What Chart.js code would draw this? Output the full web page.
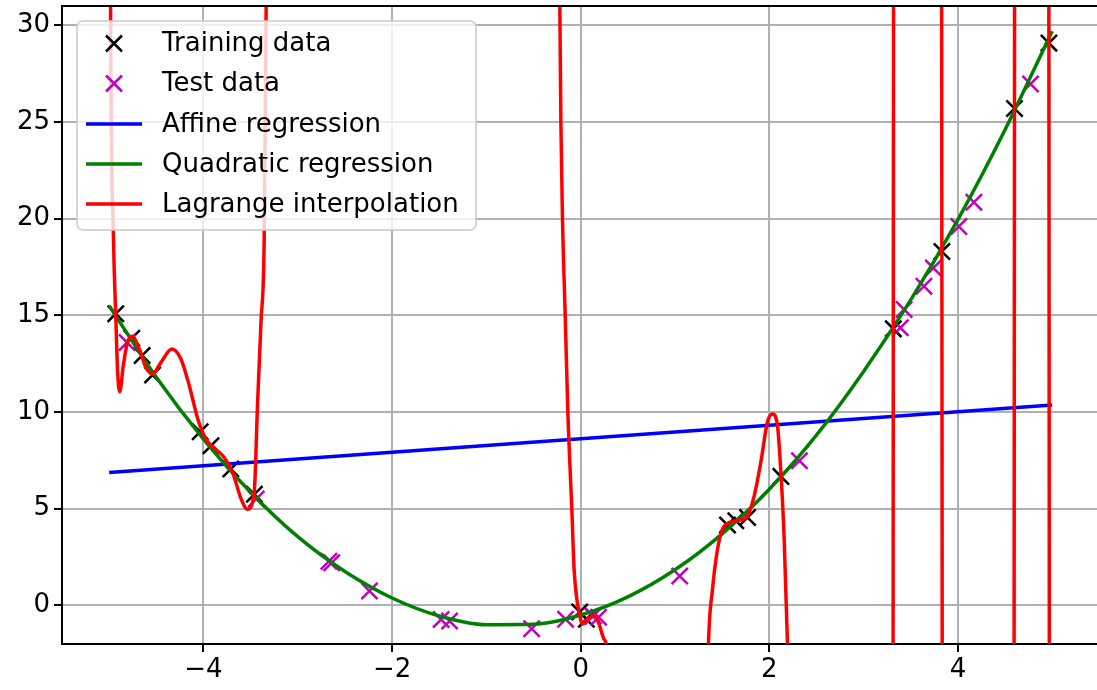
<!DOCTYPE html>
<html><head><meta charset="utf-8">
<script src="https://cdn.jsdelivr.net/npm/chart.js@4/dist/chart.umd.min.js"></script>
<style>html,body{margin:0;padding:0;background:#fff;overflow:hidden}#wrap{width:1097px;height:690px}</style>
</head><body><div id="wrap"><canvas id="c" width="1097" height="690"></canvas></div>
<script>
// ---- data ----
const trainX = [-4.93, -4.76, -4.65, -4.54, -4.035, -3.92, -3.71, -3.46, -0.01, 0.06, 0.13, 1.557, 1.645, 1.77, 2.123, 3.315, 3.83, 4.60, 4.965];
const trainY = [15.08, 13.82, 12.92, 11.92, 8.98, 8.25, 7.05, 5.75, -0.35, -0.72, -0.55, 4.15, 4.37, 4.54, 6.67, 14.3, 18.3, 25.7, 29.08];

const testX = [-4.81, -3.44, -2.67, -2.64, -2.24, -1.48, -1.39, -0.52, -0.16, 0.13, 0.19, 1.05, 2.32, 3.39, 3.43, 3.64, 3.74, 4.01, 4.17, 4.77];
const testY = [13.6, 5.5, 2.28, 2.2, 0.74, -0.73, -0.81, -1.21, -0.72, -0.55, -0.62, 1.52, 7.48, 14.36, 15.3, 16.5, 17.45, 19.6, 20.85, 26.96];

const affineX = [-5, 5];
const affineY = [6.87, 10.36];

const quadX = [-5, -4.5, -4, -3.5, -3, -2.5, -2, -1.5, -1, -0.5, 0, 0.5, 1, 1.5, 2, 2.5, 3, 3.5, 4, 4.5, 5];
const quadY = [15.5, 11.8, 8.6, 5.85, 3.55, 1.75, 0.38, -0.55, -1.0, -0.98, -0.5, 0.44, 1.84, 3.7, 6.0, 8.8, 12.1, 15.8, 19.95, 24.6, 29.7];

const lagX = [-5.0, -4.985, -4.954, -4.93, -4.91, -4.887, -4.85, -4.806, -4.753, -4.68, -4.61, -4.54, -4.45, -4.335, -4.24, -4.15, -4.06, -3.975, -3.87, -3.78, -3.69, -3.6, -3.533, -3.462, -3.427, -3.39, -3.356, -3.335, -3.31,
  -0.25, -0.221, -0.21, -0.193, -0.164, -0.136, -0.094, -0.07, -0.04, -0.016, 0.02, 0.06, 0.09, 0.154, 0.196, 0.249, 0.27, 0.29,
  1.33, 1.355, 1.398, 1.451, 1.504, 1.575, 1.68, 1.77, 1.84, 1.91, 1.98, 2.034, 2.087, 2.123, 2.158, 2.193, 2.21,
  3.29, 3.315, 3.34, 3.80, 3.83, 3.86, 4.57, 4.60, 4.63, 4.94, 4.965, 4.99, 5.0];
const lagY = [60, 31, 18.96, 15.0, 12.06, 11.05, 12.4, 13.6, 13.92, 13.26, 12.3, 11.97, 12.57, 13.26, 12.75, 11.36, 9.64, 8.6, 8.08, 7.65, 6.87, 5.49, 4.97, 5.84, 10.33, 14.65, 18.96, 31, 60,
  50, 31, 25, 20, 15, 10, 5, 1.9, 0.3, -0.38, -0.98, -0.75, -0.64, -0.55, -0.98, -1.76, -2.0, -4,
  -8, -2.0, 0.83, 2.9, 3.94, 4.28, 4.4, 4.63, 5.66, 7.39, 9.47, 9.9, 9.29, 6.87, 3.42, -2.0, -6,
  -150, 14.3, 150, 150, 18.3, -150, -150, 25.7, 150, 150, 29.1, -150, -200];

const xTicks = [-4, -2, 0, 2, 4];
const yTicks = [0, 5, 10, 15, 20, 25, 30];

const legendLabels = ['Training data', 'Test data', 'Affine regression', 'Quadratic regression', 'Lagrange interpolation'];
const colors = ['#000000', '#bf00bf', '#0000ff', '#008000', '#ff0000'];

const pts = (xs, ys) => xs.map((x, i) => ({x: x, y: ys[i]}));
const FONT = '"DejaVu Sans", sans-serif';
const minus = v => String(v).replace('-', '\u2212');

// keep the plot area fixed (no extra layout padding for marker overflow)
Chart.registry.getController('line').prototype.getMaxOverflow = function () { return 0; };

const legendPlugin = {
  id: 'mplLegend',
  afterDatasetsDraw(chart) {
    const ctx = chart.ctx;
    ctx.save();
    const bx = 77, by = 21, bw = 399, bh = 209, r = 6;
    ctx.beginPath();
    ctx.moveTo(bx + r, by);
    ctx.arcTo(bx + bw, by, bx + bw, by + bh, r);
    ctx.arcTo(bx + bw, by + bh, bx, by + bh, r);
    ctx.arcTo(bx, by + bh, bx, by, r);
    ctx.arcTo(bx, by, bx + bw, by, r);
    ctx.closePath();
    ctx.fillStyle = 'rgba(255,255,255,0.8)';
    ctx.fill();
    ctx.strokeStyle = 'rgba(204,204,204,0.8)';
    ctx.lineWidth = 2;
    ctx.stroke();
    const rows = [43.5, 83.5, 124, 164, 204];
    ctx.font = '26px ' + FONT;
    ctx.textBaseline = 'middle';
    ctx.textAlign = 'left';
    legendLabels.forEach((lab, i) => {
      const y = rows[i];
      ctx.strokeStyle = colors[i];
      if (i < 2) {
        const d = 8;
        ctx.lineWidth = 2.5;
        ctx.beginPath();
        ctx.moveTo(114 - d, y - d); ctx.lineTo(114 + d, y + d);
        ctx.moveTo(114 - d, y + d); ctx.lineTo(114 + d, y - d);
        ctx.stroke();
      } else {
        ctx.lineWidth = 3.5;
        ctx.beginPath();
        ctx.moveTo(86, y); ctx.lineTo(142, y);
        ctx.stroke();
      }
      ctx.fillStyle = '#000';
      ctx.fillText(lab, 162, y + 1);
    });
    ctx.restore();
  },
  afterDraw(chart) {
    const ctx = chart.ctx, a = chart.chartArea;
    ctx.save();
    ctx.strokeStyle = '#000';
    ctx.lineWidth = 2;
    ctx.beginPath();
    ctx.moveTo(a.left - 1, a.top);
    ctx.lineTo(a.right + 2, a.top);
    ctx.stroke();
    ctx.restore();
  }
};

new Chart(document.getElementById('c'), {
  type: 'line',
  data: {
    datasets: [
      {label: legendLabels[4], data: pts(lagX, lagY), borderColor: colors[4], borderWidth: 3.5, pointRadius: 0, cubicInterpolationMode: 'monotone', order: 0},
      {label: legendLabels[3], data: pts(quadX, quadY), borderColor: colors[3], borderWidth: 3.5, pointRadius: 0, cubicInterpolationMode: 'monotone', order: 1},
      {label: legendLabels[2], data: pts(affineX, affineY), borderColor: colors[2], borderWidth: 3.5, pointRadius: 0, order: 2},
      {label: legendLabels[1], data: pts(testX, testY), showLine: false, pointStyle: 'crossRot', pointRadius: 11.5, pointBorderWidth: 2.5, borderColor: colors[1], backgroundColor: colors[1], order: 3},
      {label: legendLabels[0], data: pts(trainX, trainY), showLine: false, pointStyle: 'crossRot', pointRadius: 11.5, pointBorderWidth: 2.5, borderColor: colors[0], backgroundColor: colors[0], order: 4}
    ]
  },
  options: {
    responsive: false,
    animation: false,
    devicePixelRatio: 1,
    layout: {padding: {top: 6, right: 0, left: 0, bottom: 0}},
    plugins: {legend: {display: false}, tooltip: {enabled: false}},
    elements: {point: {hoverRadius: 11.5}},
    scales: {
      x: {
        type: 'linear', min: -5.5, max: 5.475,
        afterBuildTicks: s => { s.ticks = xTicks.map(v => ({value: v})); },
        afterFit: s => { s.height = 46; s.paddingLeft = 0; s.paddingRight = 0; },
        grid: {color: '#b0b0b0', lineWidth: 2, tickColor: '#000', tickLength: 8, tickWidth: 2},
        border: {display: true, color: '#000', width: 2},
        ticks: {font: {family: FONT, size: 26}, color: '#000', padding: 3, maxRotation: 0, callback: v => minus(v)}
      },
      y: {
        type: 'linear', min: -2, max: 31,
        afterBuildTicks: s => { s.ticks = yTicks.map(v => ({value: v})); },
        afterFit: s => { s.width = 62; s.paddingTop = 0; s.paddingBottom = 0; },
        grid: {color: '#b0b0b0', lineWidth: 2, tickColor: '#000', tickLength: 8, tickWidth: 2},
        border: {display: true, color: '#000', width: 2},
        ticks: {font: {family: FONT, size: 26}, color: '#000', padding: 4, callback: v => minus(v)}
      }
    }
  },
  plugins: [legendPlugin]
});
</script>
</body></html>
